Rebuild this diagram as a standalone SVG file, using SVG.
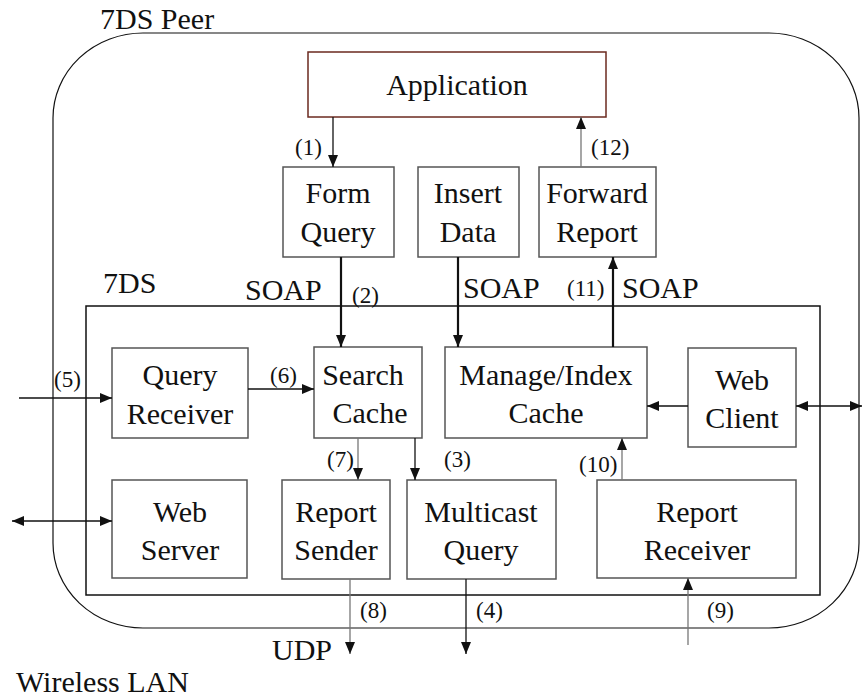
<svg xmlns="http://www.w3.org/2000/svg" width="862" height="698" viewBox="0 0 862 698">
<defs>
<style>
.t{font-size:30px;text-anchor:middle;}
.lbl{font-size:30px;}
.n{font-size:23px;}
.box{fill:#fff;stroke:#555;stroke-width:1.5;}
.c{fill:none;stroke:#111;stroke-width:1.3;}
.thick{stroke-width:2.2;}
.gray{stroke:#777;}
</style>
<marker id="ah" viewBox="0 0 12 10" refX="12" refY="5" markerWidth="12" markerHeight="10" markerUnits="userSpaceOnUse" orient="auto-start-reverse">
<path d="M0,0 L12,5 L0,10 Z" fill="#111"/>
</marker>
</defs>
<rect width="862" height="698" fill="#fff"/>
<g font-family="'Liberation Serif', 'DejaVu Serif', serif" fill="#111">
<g id="peer">
<rect x="53" y="33" width="806" height="595" rx="90" ry="85" fill="none" stroke="#111" stroke-width="1.2"/>
<text class="lbl" x="100" y="29">7DS Peer</text>
</g>
<g id="sevends">
<rect x="86" y="306" width="734" height="289" fill="none" stroke="#111" stroke-width="1.5"/>
<text class="lbl" x="103" y="293">7DS</text>
</g>
<g id="application">
<rect x="308" y="52" width="298" height="65" fill="#fff" stroke="#6b2a1f" stroke-width="1.5"/>
<text class="t" x="457" y="95">Application</text>
</g>
<g id="form-query">
<rect class="box" x="283" y="167" width="111" height="90"/>
<text class="t" x="338" y="203">Form</text>
<text class="t" x="338" y="242">Query</text>
</g>
<g id="insert-data">
<rect class="box" x="418" y="167" width="101" height="90"/>
<text class="t" x="468" y="203">Insert</text>
<text class="t" x="468" y="242">Data</text>
</g>
<g id="forward-report">
<rect class="box" x="539" y="167" width="117" height="90"/>
<text class="t" x="597" y="203">Forward</text>
<text class="t" x="597" y="242">Report</text>
</g>
<g id="query-receiver">
<rect class="box" x="112" y="348" width="136" height="90"/>
<text class="t" x="180" y="385">Query</text>
<text class="t" x="180" y="424">Receiver</text>
</g>
<g id="search-cache">
<rect class="box" x="314" y="347" width="108" height="91"/>
<text class="t" x="363" y="385">Search</text>
<text class="t" x="370" y="423">Cache</text>
</g>
<g id="manage-index-cache">
<rect class="box" x="445" y="347" width="202" height="91"/>
<text class="t" x="546" y="385">Manage/Index</text>
<text class="t" x="546" y="423">Cache</text>
</g>
<g id="web-client">
<rect class="box" x="688" y="348" width="108" height="99"/>
<text class="t" x="742" y="390">Web</text>
<text class="t" x="742" y="428">Client</text>
</g>
<g id="web-server">
<rect class="box" x="112" y="480" width="135" height="98"/>
<text class="t" x="180" y="522">Web</text>
<text class="t" x="180" y="560">Server</text>
</g>
<g id="report-sender">
<rect class="box" x="282" y="480" width="108" height="99"/>
<text class="t" x="336" y="522">Report</text>
<text class="t" x="336" y="560">Sender</text>
</g>
<g id="multicast-query">
<rect class="box" x="407" y="480" width="149" height="99"/>
<text class="t" x="481" y="522">Multicast</text>
<text class="t" x="481" y="560">Query</text>
</g>
<g id="report-receiver">
<rect class="box" x="597" y="480" width="199" height="98"/>
<text class="t" x="697" y="522">Report</text>
<text class="t" x="697" y="560">Receiver</text>
</g>
<g id="connectors">
<line class="c" x1="333" y1="117" x2="333" y2="167" marker-end="url(#ah)"/>
<line class="c gray" x1="581" y1="167" x2="581" y2="117" marker-end="url(#ah)"/>
<line class="c thick" x1="341" y1="257" x2="341" y2="347" marker-end="url(#ah)"/>
<line class="c thick" x1="458" y1="257" x2="458" y2="347" marker-end="url(#ah)"/>
<line class="c thick" x1="613" y1="347" x2="613" y2="257" marker-end="url(#ah)"/>
<line class="c" x1="19" y1="398" x2="112" y2="398" marker-end="url(#ah)"/>
<line class="c" x1="248" y1="389" x2="314" y2="389" marker-end="url(#ah)"/>
<line class="c" x1="12" y1="521" x2="112" y2="521" marker-start="url(#ah)" marker-end="url(#ah)"/>
<line class="c" x1="688" y1="406" x2="647" y2="406" marker-end="url(#ah)"/>
<line class="c" x1="796" y1="406" x2="862" y2="406" marker-start="url(#ah)" marker-end="url(#ah)"/>
<line class="c gray" x1="622" y1="480" x2="622" y2="438" marker-end="url(#ah)"/>
<line class="c gray" x1="358" y1="438" x2="358" y2="480" marker-end="url(#ah)"/>
<line class="c" x1="415" y1="438" x2="415" y2="480" marker-end="url(#ah)"/>
<line class="c gray" x1="350" y1="579" x2="350" y2="654" marker-end="url(#ah)"/>
<line class="c" x1="466" y1="579" x2="466" y2="654" marker-end="url(#ah)"/>
<line class="c gray" x1="688" y1="645" x2="688" y2="578" marker-end="url(#ah)"/>
</g>
<g id="labels">
<text class="n" x="295" y="155">(1)</text>
<text class="n" x="591" y="155">(12)</text>
<text class="lbl" x="245" y="300">SOAP</text>
<text class="n" x="352" y="303">(2)</text>
<text class="lbl" x="463" y="298">SOAP</text>
<text class="n" x="567" y="296">(11)</text>
<text class="lbl" x="622" y="298">SOAP</text>
<text class="n" x="54" y="387">(5)</text>
<text class="n" x="270" y="383">(6)</text>
<text class="n" x="327" y="467">(7)</text>
<text class="n" x="444" y="467">(3)</text>
<text class="n" x="579" y="472">(10)</text>
<text class="n" x="360" y="618">(8)</text>
<text class="n" x="476" y="618">(4)</text>
<text class="n" x="707" y="618">(9)</text>
<text class="lbl" x="272" y="660">UDP</text>
<text class="lbl" x="16" y="692">Wireless LAN</text>
</g>
</g>
</svg>
